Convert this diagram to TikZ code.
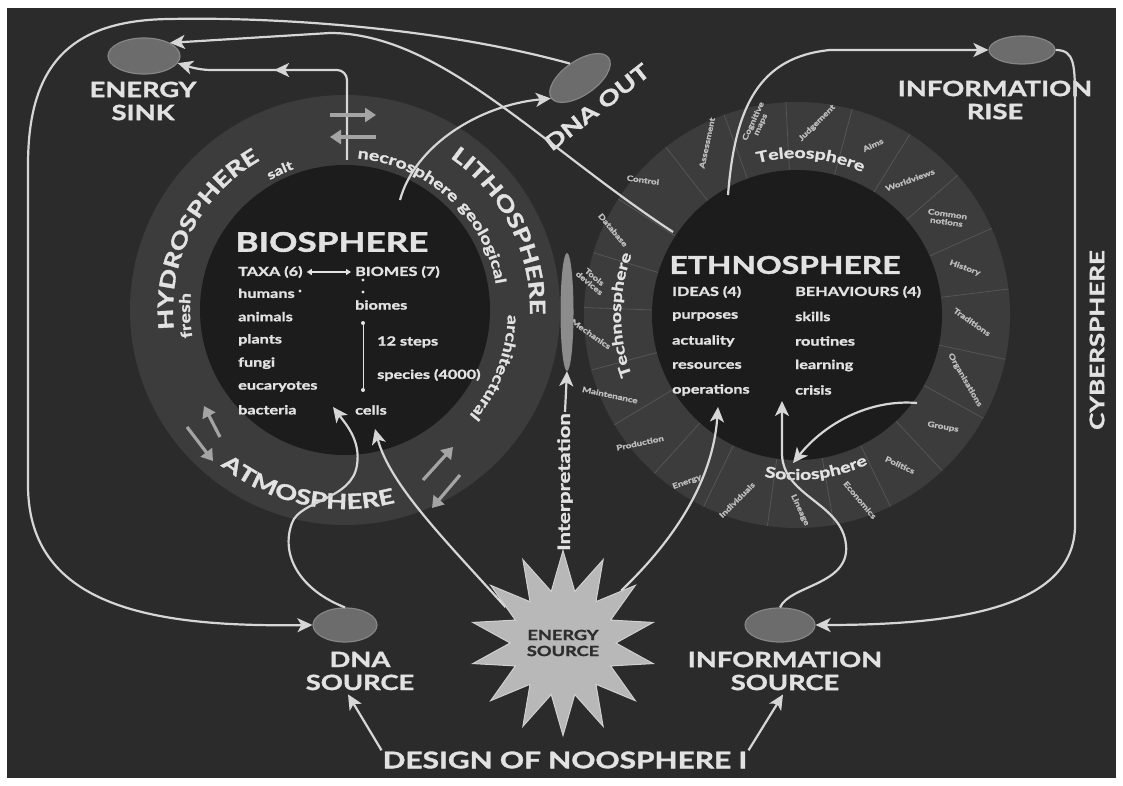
\documentclass[tikz,border=0pt]{standalone}
\usepackage{fontspec}
\setmainfont{Lato}[FakeStretch=1.3, BoldFeatures={FakeBold=1.6}]
\usetikzlibrary{positioning,arrows.meta,shapes.geometric,decorations.text,decorations.markings,calc}

\definecolor{bg}{HTML}{2B2B2B}
\definecolor{ring}{HTML}{3C3C3C}
\definecolor{core}{HTML}{1C1C1C}
\definecolor{ink}{HTML}{E2E2E2}
\definecolor{tinyink}{HTML}{BEBEBE}
\definecolor{lineink}{HTML}{D6D6D6}
\definecolor{blobc}{HTML}{6C6C6C}
\definecolor{blobedge}{HTML}{858585}
\definecolor{starc}{HTML}{B8B8B8}
\definecolor{staredge}{HTML}{D0D0D0}
\definecolor{stardark}{HTML}{2E2E2E}
\definecolor{swapc}{HTML}{A4A4A4}
\definecolor{segc}{HTML}{555555}
\definecolor{lensc}{HTML}{8C8C8C}

\newcommand\fhead{\fontsize{27}{29}\selectfont\bfseries}
\newcommand\fheadb{\fontsize{24.5}{26}\selectfont\bfseries}
\newcommand\flbl{\fontsize{21}{23}\selectfont\bfseries}
\newcommand\ftitle{\fontsize{23}{25}\selectfont\bfseries}
\newcommand\flist{\fontsize{12.5}{13}\selectfont\bfseries}
\newcommand\fring{\fontsize{15}{15}\selectfont\bfseries}
\newcommand\fsalt{\fontsize{13}{13}\selectfont\bfseries}
\newcommand\ftiny{\fontsize{7.5}{8}\selectfont\bfseries}
\newcommand\fstar{\fontsize{14}{16}\selectfont\bfseries}
\newcommand\finterp{\fontsize{17}{17}\selectfont\bfseries}

\begin{document}
\begin{tikzpicture}[x=1pt, y=1pt,
  lbl/.style={text=ink, font=\flbl, align=center, inner sep=1pt},
  lst/.style={text=ink, font=\flist, anchor=west, inner sep=0pt},
  tiny/.style={text=tinyink, font=\ftiny, align=center, inner sep=0pt},
  blob/.style={ellipse, fill=blobc, draw=blobedge, line width=1.2pt, inner sep=0pt},
  flow/.style={draw=lineink, line width=2.2pt, -{Stealth[length=15pt, width=14pt, inset=4pt]}},
  swap/.style={draw=swapc, line width=3.2pt, -{Triangle[length=11pt, width=14pt]}},
  seg/.style={draw=segc, line width=0.8pt},
  ringtxt/.style={decorate, decoration={text along path, text align=center, text color=ink}}
]
\useasboundingbox (0,0) rectangle (1123,785);
\fill[white] (0,0) rectangle (1123,785);
\fill[bg] (7,7) rectangle (1116,777);

% the two spheres
\coordinate (cL) at (345,475);
\coordinate (cR) at (797,470);
\fill[ring] (cL) circle[radius=215];
\fill[ring] (cR) circle[radius=213];
\foreach \a in {147,128,110,93,75,58,41,24,7,-12,-29,-47,-64,-80,-98,-116,-132,-149,-165,178,163}
  \draw[seg] (cR) ++(\a:145) -- ++(\a:68);
\fill[core] (cL) circle[radius=145];
\fill[core] (cR) circle[radius=145];

% ring names, left
\path[ringtxt, decoration={text={|\flbl|HYDROSPHERE}}] ($(cL)+(200:172)$) arc[start angle=200, end angle=106, radius=172];
\path[ringtxt, decoration={text={|\fring|fresh}}] ($(cL)+(202:155)$) arc[start angle=202, end angle=162, radius=155];
\path[ringtxt, decoration={text={|\fsalt|salt}}] ($(cL)+(125:150)$) arc[start angle=125, end angle=105, radius=150];
\path[ringtxt, decoration={text={|\fring|necrosphere}}] ($(cL)+(90:152)$) arc[start angle=90, end angle=40, radius=152];
\path[ringtxt, decoration={text={|\fring|geological}}] ($(cL)+(44:153)$) arc[start angle=44, end angle=8, radius=153];
\path[ringtxt, decoration={text={|\flbl|LITHOSPHERE}}] ($(cL)+(62:185)$) arc[start angle=62, end angle=-8, radius=185];
\path[ringtxt, decoration={text={|\fring|architectural}}] ($(cL)+(2:163)$) arc[start angle=2, end angle=-44, radius=163];
\path[ringtxt, decoration={text={|\flbl|ATMOSPHERE}}] ($(cL)+(226:199)$) arc[start angle=226, end angle=290, radius=199];

% ring names, right
\path[ringtxt, decoration={text={|\fring|Technosphere}}] ($(cR)+(204:176)$) arc[start angle=204, end angle=156, radius=176];
\path[ringtxt, decoration={text={|\fring|Teleosphere}}] ($(cR)+(108:157)$) arc[start angle=108, end angle=62, radius=157];
\path[ringtxt, decoration={text={|\fring|Sociosphere}}] ($(cR)+(252:165)$) arc[start angle=252, end angle=302, radius=165];

\foreach \x/\y/\r/\t [count=\i] in {643/605/-8/Control, 707/642/78/Assessment,
    757/662/65/{Cognitive\\maps}, 817/662/45/Judgement, 873/640/25/Aims,
    910/605/20/Worldviews, 947/567/-8/{Common\\notions}, 965/517/-20/History,
    972/463/-35/Traditions, 965/405/-60/Organisations, 943/358/-10/Groups,
    900/320/-25/Politics, 860/285/-50/Economics, 800/275/-65/Lineage,
    737/285/45/Individuals, 687/303/20/Energy, 640/342/12/Production,
    610/390/-12/Maintenance, 591/451/-35/Mechanics, 592/505/-40/{Tools\\devices},
    613/555/-50/Database}
  \node[tiny, rotate=\r] (rl\i) at (\x,\y) {\t};

% biosphere
\node[lbl, font=\fhead] (bio) at (332,543) {BIOSPHERE};
\node[lst] (taxa) at (238,513) {TAXA (6)};
\node[lst] (biomes) at (355,513) {BIOMES (7)};
\draw[ink, line width=1.2pt, shorten <=4pt, shorten >=4pt,
  {Triangle[length=5pt,width=6pt]}-{Triangle[length=5pt,width=6pt]}] (taxa.east) -- (biomes.west);
\foreach \t [count=\i] in {humans,animals,plants,fungi,eucaryotes,bacteria}
  \node[lst] (tx\i) at (238,515-\i*23.3) {\t};
\node[lst] (bm) at (355,480) {biomes};
\node[lst] (steps) at (377,443) {12 steps};
\node[lst] (spec) at (377,410) {species (4000)};
\node[lst] (cells) at (355,375) {cells};
\fill[ink] (300,494) circle[radius=1.6] (363,505) circle[radius=1.6] (363,493) circle[radius=1.6]
  (363,462) circle[radius=2] (363,395) circle[radius=2];
\draw[ink, line width=0.8pt] (363,462) -- (363,395);

% ethnosphere
\node[lbl, font=\fheadb] (ethno) at (785,520) {ETHNOSPHERE};
\node[lst] (ideas) at (672,493) {IDEAS (4)};
\node[lst] (behav) at (795,493) {BEHAVIOURS (4)};
\foreach \t [count=\i] in {purposes,actuality,resources,operations}
  \node[lst] (id\i) at (672,493-\i*24.5) {\t};
\foreach \t [count=\i] in {skills,routines,learning,crisis}
  \node[lst] (bh\i) at (795,493-\i*24.5) {\t};

% sources and sinks
\node[blob, minimum width=72pt, minimum height=36pt] (esink) at (144,729) {};
\node[lbl] (esinkl) at (143,684) {ENERGY\\SINK};
\node[blob, minimum width=70pt, minimum height=34pt, rotate=35] (dnao) at (580,707) {};
\node[lbl, rotate=38] (dnaol) at (597,678) {DNA OUT};
\node[blob, minimum width=66pt, minimum height=28pt] (irise) at (1022,735) {};
\node[lbl] (irisel) at (995,685) {INFORMATION\\RISE};
\node[blob, minimum width=64pt, minimum height=34pt] (dnas) at (345,160) {};
\node[lbl] (dnasl) at (360,114) {DNA\\SOURCE};
\node[blob, minimum width=70pt, minimum height=34pt] (isrc) at (780,160) {};
\node[lbl] (isrcl) at (785,114) {INFORMATION\\SOURCE};
\node[star, star points=14, star point ratio=1.75, minimum size=185pt, fill=starc, draw=staredge,
  line width=1pt, inner sep=0pt, text=stardark, font=\fstar, align=center] (esrc) at (563,142) {ENERGY\\SOURCE};
\node[ellipse, fill=lensc, minimum width=13pt, minimum height=118pt, inner sep=0pt] (lens) at (567,473) {};
\node[rotate=90, text=ink, font=\finterp, inner sep=1pt] (interp) at (565,303) {Interpretation};
\node[lbl, rotate=90, font=\fontsize{20}{20}\selectfont\bfseries] (cyber) at (1097,445) {CYBERSPHERE};
\node[lbl, font=\ftitle] (title) at (565,25) {DESIGN OF NOOSPHERE I};

% free ends
\coordinate (techo) at (673,553);
\coordinate (necro) at (347,625);
\coordinate (bioin) at (333,378);
\coordinate (cellsin) at (375,356);
\coordinate (opin) at (718,378);
\coordinate (crisin) at (782,384);
\coordinate (grpo) at (917,382);
\coordinate (socin) at (793,322);
\coordinate (ethtop) at (728,590);

% flows
\draw[flow] (dnao.north) .. controls (430,760) and (260,768) .. (170,766)
  .. controls (70,765) and (28,720) .. (28,620) -- (28,300)
  .. controls (28,175) and (160,158) .. (dnas.west);
\draw[flow] (techo) .. controls (540,640) and (440,752) .. (330,752) -- (esink.north east);
\draw[flow, rounded corners=10pt, postaction={decorate},
  decoration={markings, mark=at position 0.62 with {\arrow{Stealth[length=15pt, width=14pt, inset=4pt]}}}]
  (necro) -- (347,715) -- (200,715) -- (esink.-12);
\draw[flow] (400,585) .. controls (415,640) and (480,680) .. (dnao.west);
\draw[flow] (dnas.north) .. controls (300,195) and (280,230) .. (292,262)
  .. controls (300,285) and (352,285) .. (357,320) .. controls (361,345) and (345,362) .. (bioin);
\draw[flow] (esrc.148) .. controls (445,245) and (390,300) .. (cellsin);
\draw[flow] (interp.east) -- (lens.south);
\draw[flow] (esrc.42) .. controls (690,260) and (714,320) .. (opin);
\draw[flow] (isrc.north) .. controls (790,200) and (850,200) .. (846,240)
  .. controls (842,282) and (784,288) .. (782,330) -- (crisin);
\draw[flow] (grpo) .. controls (870,386) and (825,362) .. (socin);
\draw[flow] (ethtop) .. controls (735,680) and (760,728) .. (830,735) -- (irise.west);
\draw[flow] (irise.east) .. controls (1075,735) and (1075,720) .. (1075,680) -- (1075,260)
  .. controls (1075,175) and (950,160) .. (isrc.east);
\draw[flow] (title.north west) -- ($(dnasl.south)+(-12,-3)$);
\draw[flow] (title.north east) -- ($(isrcl.south)+(-2,-3)$);

% exchanges between the spheres
\foreach \xa/\ya/\xb/\yb in {330/670/376/670, 376/648/330/648, 220/348/204/379,
    187/358/213/324, 423/305/453/338, 460/310/432/277}
  \draw[swap] (\xa,\ya) -- (\xb,\yb);
\end{tikzpicture}
\end{document}
